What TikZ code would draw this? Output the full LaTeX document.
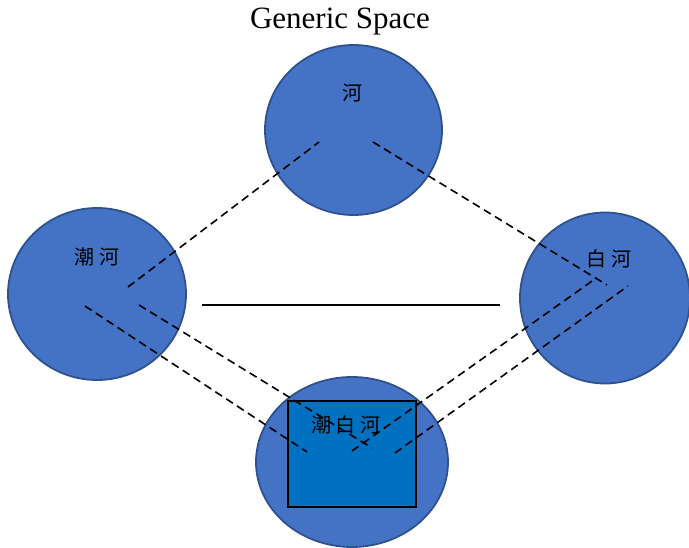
\documentclass[tikz,border=0pt]{standalone}
\usepackage{fontspec}
\setmainfont{Liberation Serif}
\newfontfamily\cjk{Noto Sans CJK SC}
\usetikzlibrary{shapes.geometric}
\definecolor{circfill}{HTML}{4472C4}
\definecolor{circline}{HTML}{2F528F}
\definecolor{boxfill}{HTML}{0070C0}
\begin{document}
\begin{tikzpicture}[x=1pt,y=-1pt,
  space/.style={ellipse, draw=circline, fill=circfill, line width=1.8pt, inner sep=0pt},
  cjklabel/.style={font=\cjk\fontsize{20}{20}\selectfont, inner sep=0pt},
  link/.style={line width=1.6pt, dash pattern=on 8pt off 5pt},
  plain/.style={line width=1.6pt}]
\useasboundingbox (0,0) rectangle (689,548);
\node[font=\fontsize{31}{31}\selectfont, inner sep=0pt] (title) at (340,22) {Generic Space};
\node[space, minimum width=177pt, minimum height=170pt] (top) at (353.5,130) {};
\node[space, minimum width=178pt, minimum height=172pt] (left) at (97,294) {};
\node[space, minimum width=170pt, minimum height=171pt] (right) at (605,298) {};
\node[space, minimum width=192pt, minimum height=170pt] (bottom) at (352,462) {};
\node[draw=black, fill=boxfill, line width=1.6pt, minimum width=128pt, minimum height=106pt, inner sep=0pt] (box) at (352,454) {};
\node[cjklabel] (ltop) at (352,93) {河};
\node[cjklabel] (lleft) at (97,257) {潮 河};
\node[cjklabel] (lright) at (609,259) {白 河};
\node[cjklabel] (lbottom) at (346,425) {潮 白 河};
\coordinate (a1) at (128,287); \coordinate (a2) at (319,142);
\coordinate (b1) at (373,142); \coordinate (b2) at (607,285);
\coordinate (c1) at (85,306);  \coordinate (c2) at (307,452);
\coordinate (d1) at (139,305); \coordinate (d2) at (372,448);
\coordinate (e1) at (352,451); \coordinate (e2) at (595,279);
\coordinate (f1) at (395,453); \coordinate (f2) at (628,286);
\coordinate (s1) at (202,305); \coordinate (s2) at (500,305);
\draw[link] (a1) -- (a2);
\draw[link] (b1) -- (b2);
\draw[link] (c1) -- (c2);
\draw[link] (d1) -- (d2);
\draw[link] (e1) -- (e2);
\draw[link] (f1) -- (f2);
\draw[plain] (s1) -- (s2);
\end{tikzpicture}
\end{document}
